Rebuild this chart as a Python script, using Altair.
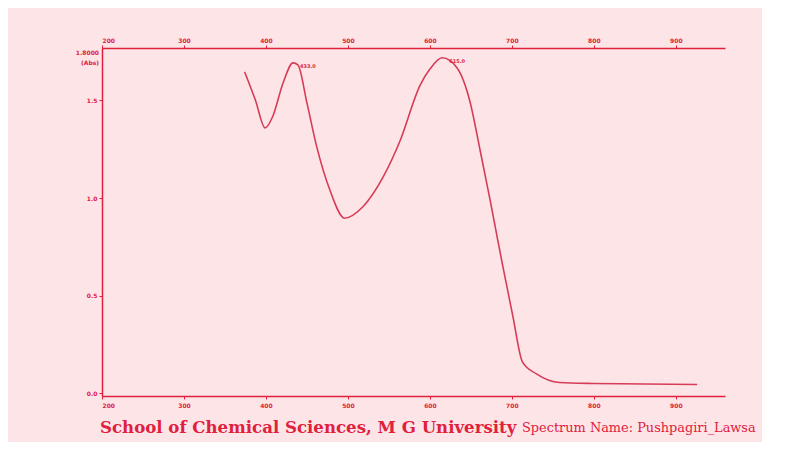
import altair as alt
import pandas as pd

# Spectrum (wavelength nm, absorbance)
wavelength = [374, 387, 399, 408, 421, 433, 439, 450, 462, 478, 496, 518, 543, 563,
              588, 600, 615, 633, 649, 661, 673, 683, 689, 701, 713, 730, 758, 799, 926]
absorbance = [1.646, 1.503, 1.359, 1.415, 1.590, 1.692, 1.682, 1.487, 1.262, 1.041, 0.897,
              0.954, 1.108, 1.287, 1.577, 1.660, 1.718, 1.667, 1.492, 1.250, 1.000,
              0.780, 0.650, 0.400, 0.160, 0.100, 0.056, 0.051, 0.046]

peak_wl = [433, 615]
peak_abs = [1.692, 1.718]
peak_text = ["433.0", "615.0"]

x_ticks = [200, 300, 400, 500, 600, 700, 800, 900]
y_ticks = [0.0, 0.5, 1.0, 1.5]

title_main = "School of Chemical Sciences, M G University"
title_sub = "Spectrum Name: Pushpagiri_Lawsa"
y_top_label = "1.8000"
y_unit_label = "(Abs)"

RED = "#e0203c"
LINE = "#d63c58"
BG = "#fde5e7"

df = pd.DataFrame({"wl": wavelength, "abs": absorbance})
peaks = pd.DataFrame({"wl": peak_wl, "abs": peak_abs, "t": peak_text})

xscale = alt.Scale(domain=[200, 960], nice=False, zero=False)
yscale = alt.Scale(domain=[-0.013, 1.768], nice=False, zero=False)

axis_common = dict(labelColor=RED, labelFont="DejaVu Sans", labelFontSize=6,
                   labelFontWeight="bold", domainColor=RED, tickColor=RED,
                   domainWidth=1.5, tickSize=3, grid=False, title=None)

y_axis = alt.Axis(values=y_ticks, orient="left", format=".1f", labelPadding=2, **axis_common)

line = alt.Chart(df).mark_line(color=LINE, strokeWidth=1.6, interpolate="monotone").encode(
    x=alt.X("wl:Q", scale=xscale,
            axis=alt.Axis(values=x_ticks, orient="bottom", labelPadding=3, **axis_common)),
    y=alt.Y("abs:Q", scale=yscale, axis=y_axis),
)

top = alt.Chart(df).mark_line(opacity=0).encode(
    x=alt.X("wl:Q", scale=xscale,
            axis=alt.Axis(values=x_ticks, orient="top", labelPadding=2, **axis_common)),
    y=alt.Y("abs:Q", scale=yscale, axis=y_axis),
)

plabels = alt.Chart(peaks).mark_text(color=RED, fontSize=5, fontWeight="bold", align="left",
                                     dx=7, dy=3, font="DejaVu Sans").encode(
    x=alt.X("wl:Q", scale=xscale, axis=None),
    y=alt.Y("abs:Q", scale=yscale, axis=y_axis), text="t:N")

def label(txt, x, y, **kw):
    return alt.Chart(pd.DataFrame({"t": [txt]})).mark_text(color=RED, **kw).encode(
        x=alt.value(x), y=alt.value(y), text="t:N")

t1 = label(title_main, -2, 385, font="DejaVu Serif", fontSize=16.6, fontWeight="bold",
           align="left", baseline="alphabetic")
t2 = label(title_sub, 420, 384, font="DejaVu Serif", fontSize=12.9,
           align="left", baseline="alphabetic")
yl1 = label(y_top_label, -3, 5, font="DejaVu Sans", fontSize=6, fontWeight="bold",
            align="right", baseline="middle")
yl2 = label(y_unit_label, -3, 15, font="DejaVu Sans", fontSize=6, fontWeight="bold",
            align="right", baseline="middle")

chart = alt.layer(line, top, plabels, t1, t2, yl1, yl2).resolve_axis(x="independent").properties(
    width=623, height=348,
    autosize=alt.AutoSizeParams(type="none"),
    padding={"left": 94, "top": 40, "right": 37, "bottom": 46},
    background=BG,
).configure_view(stroke=None)

chart.save("out.html", embed_options={"renderer": "svg", "actions": False})
